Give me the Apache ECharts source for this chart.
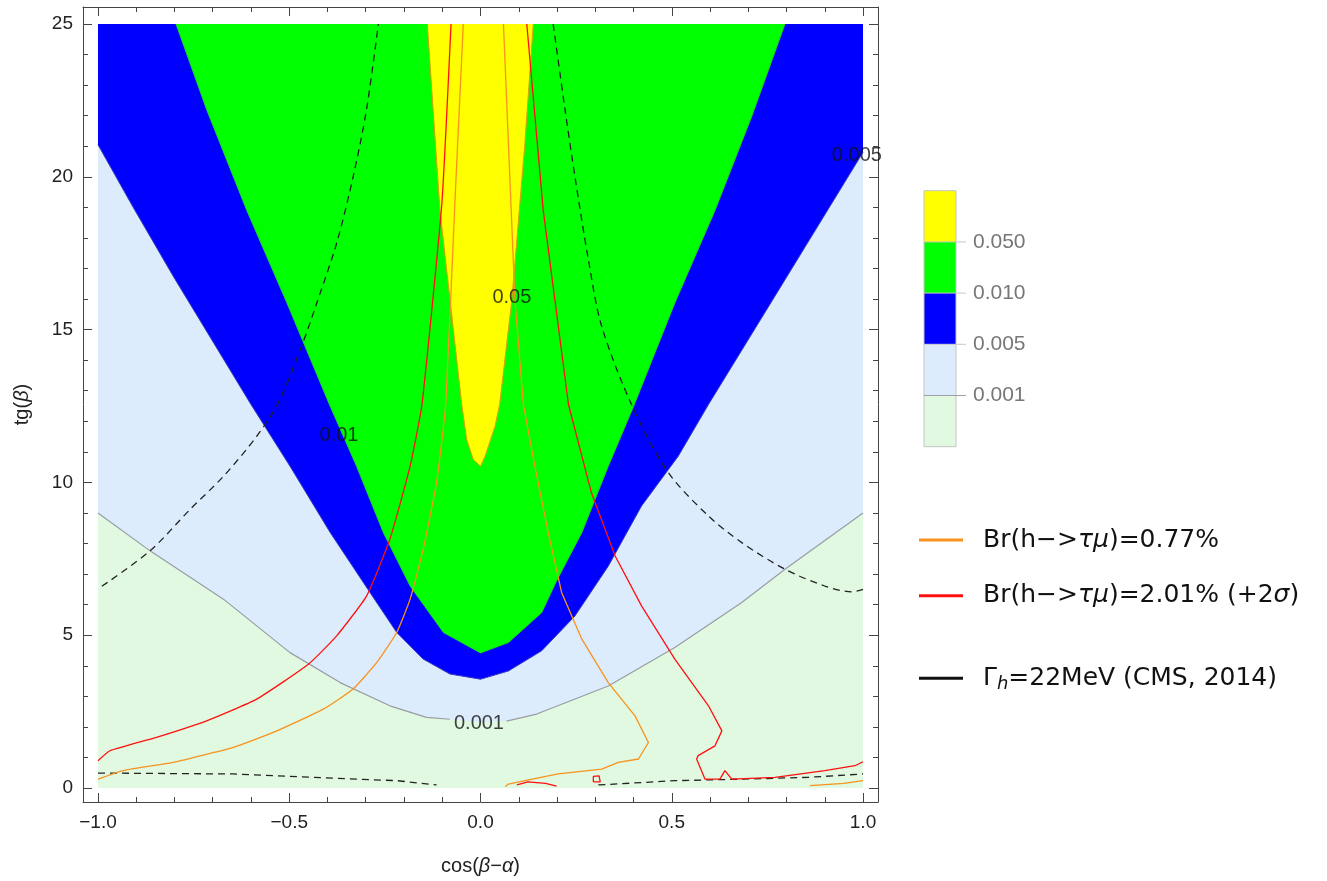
<!DOCTYPE html>
<html>
<head>
<meta charset="utf-8">
<script src="https://cdn.jsdelivr.net/npm/echarts@6/dist/echarts.min.js"></script>
<style>
  html, body { margin: 0; padding: 0; background: #fff; }
  #main { width: 1327px; height: 881px; }
</style>
</head>
<body>
<div id="main"></div>
<script>
// tg(beta) vs cos(beta-alpha) contour plot

var FONT = '"Liberation Sans", Arial, sans-serif';
var WIDE = '"DejaVu Sans", sans-serif';

// filled contour edges (region above each curve gets the colour)
var edge001X = [-1, -0.864, -0.672, -0.498, -0.367, -0.237, -0.141, -0.08, 0, 0.068, 0.147, 0.334, 0.508, 0.683, 0.796, 1];
var edge001Y = [9.0, 7.76, 6.18, 4.43, 3.45, 2.69, 2.31, 2.25, 2.15, 2.19, 2.42, 3.34, 4.6, 6.07, 7.16, 9.0];
var edge005X = [-1, -0.908, -0.803, -0.6, -0.498, -0.393, -0.289, -0.219, -0.15, -0.08, 0, 0.073, 0.16, 0.247, 0.334, 0.421, 0.517, 0.596, 0.77, 1];
var edge005Y = [21.05, 19.0, 16.74, 12.55, 10.53, 8.36, 6.4, 5.09, 4.22, 3.73, 3.56, 3.83, 4.49, 5.63, 7.26, 9.23, 10.86, 12.55, 16.1, 20.8];
var edge01X = [-0.796, -0.716, -0.611, -0.507, -0.395, -0.324, -0.254, -0.184, -0.097, 0, 0.073, 0.16, 0.199, 0.265, 0.334, 0.4, 0.508, 0.613, 0.709, 0.796];
var edge01Y = [25, 22.2, 18.9, 15.9, 12.55, 10.53, 8.36, 6.61, 5.09, 4.42, 4.76, 5.74, 6.78, 8.36, 10.53, 12.48, 15.87, 18.9, 21.97, 25];
var edge05X = [-0.139, -0.106, -0.067, -0.049, -0.036, -0.019, 0, 0.012, 0.038, 0.05, 0.082, 0.116, 0.138];
var edge05Y = [25, 18.9, 14.57, 12.55, 11.4, 10.75, 10.53, 10.86, 11.84, 12.55, 15.98, 21.1, 25];

// Br(h->tau mu) = 0.77%
var orangeLeftX = [-0.045, -0.067, -0.091, -0.115, -0.15, -0.184, -0.219, -0.271, -0.333, -0.411, -0.542, -0.646, -0.803, -0.934, -1];
var orangeLeftY = [25, 19.14, 12.55, 9.99, 7.81, 6.18, 5.09, 4.11, 3.24, 2.58, 1.82, 1.33, 0.84, 0.57, 0.29];
var orangeRightX = [0.06, 0.09, 0.112, 0.142, 0.177, 0.212, 0.265, 0.334, 0.404, 0.439, 0.413, 0.36, 0.317, 0.203, 0.116, 0.073, 0.065];
var orangeRightY = [25, 15.98, 12.55, 10.53, 8.36, 6.4, 4.87, 3.45, 2.36, 1.49, 0.95, 0.84, 0.62, 0.46, 0.24, 0.13, 0.05];
var orangeCornerX = [0.861, 0.95, 1];
var orangeCornerY = [0.08, 0.15, 0.24];

// Br(h->tau mu) = 2.01%
var redLeftX = [-0.077, -0.101, -0.153, -0.184, -0.237, -0.298, -0.376, -0.45, -0.585, -0.716, -0.847, -0.969, -1];
var redLeftY = [25, 19.14, 12.55, 10.53, 8.14, 6.28, 4.98, 4.05, 2.91, 2.2, 1.66, 1.22, 0.89];
var redRightX = [0.121, 0.164, 0.23, 0.29, 0.352, 0.421, 0.508, 0.596, 0.631, 0.613, 0.569, 0.565, 0.587, 0.626, 0.639, 0.657, 0.77, 0.9, 0.979, 1];
var redRightY = [25, 18.9, 12.55, 9.66, 7.59, 5.96, 4.22, 2.69, 1.87, 1.38, 1.06, 0.95, 0.29, 0.29, 0.57, 0.29, 0.35, 0.57, 0.73, 0.86];
var redBitX = [0.095, 0.124, 0.17, 0.199];
var redBitY = [0.1, 0.2, 0.15, 0.06];
var redLoopX = [0.295, 0.295, 0.31, 0.313, 0.295];
var redLoopY = [0.2, 0.38, 0.4, 0.2, 0.2];

// Gamma_h = 22 MeV
var widthLeftX = [-0.99, -0.864, -0.759, -0.672, -0.585, -0.528, -0.465, -0.428, -0.376, -0.333, -0.298, -0.267];
var widthLeftY = [6.6, 7.76, 9.12, 10.2, 11.51, 12.62, 14.55, 15.87, 17.83, 20.0, 22.2, 25];
var widthRightX = [0.19, 0.221, 0.247, 0.282, 0.317, 0.4, 0.491, 0.596, 0.683, 0.796, 0.9, 0.97, 1];
var widthRightY = [25, 22.2, 20.0, 17.29, 15.1, 12.4, 10.32, 8.9, 8.03, 7.16, 6.61, 6.42, 6.5];
var widthLowAX = [-1, -0.647, -0.385, -0.218, -0.115];
var widthLowAY = [0.49, 0.46, 0.32, 0.24, 0.1];
var widthLowBX = [0.308, 0.508, 0.683, 0.857, 1];
var widthLowBY = [0.1, 0.24, 0.29, 0.35, 0.46];

// contour labels
var contourLabels = [
  [-0.37, 11.54, '0.01'],
  [0.082, 16.06, '0.05'],
  [-0.004, 2.12, '0.001'],
  [0.984, 20.69, '0.005']
];

// colour bar
var barColors = ['#ffff00', '#00ff00', '#0000ff', '#dcecfc', '#e0f9e0'];
var barTicks = ['0.050', '0.010', '0.005', '0.001'];

// axes: data range plus the frame padding
var xRange = [-1.0392, 1.0392];
var yRange = [-0.4575, 25.556];
var yTop = 25;
var xMajor = [-1, -0.5, 0, 0.5, 1];
var xMinor = [-0.9, -0.8, -0.7, -0.6, -0.4, -0.3, -0.2, -0.1, 0.1, 0.2, 0.3, 0.4, 0.6, 0.7, 0.8, 0.9];
var yMajor = [0, 5, 10, 15, 20, 25];
var yMinor = [1, 2, 3, 4, 6, 7, 8, 9, 11, 12, 13, 14, 16, 17, 18, 19, 21, 22, 23, 24];

function zip(xs, ys) {
  var out = [];
  for (var i = 0; i < xs.length; i++) out.push([xs[i], ys[i]]);
  return out;
}

// polygon from the edge curve up to tg(beta) = 25
function fill(pts, color, edge) {
  return {
    type: 'custom', silent: true, data: [0],
    renderItem: function (params, api) {
      var line = pts.map(function (p) { return api.coord(p); });
      var poly = line.concat([
        api.coord([pts[pts.length - 1][0], yTop]),
        api.coord([pts[0][0], yTop])
      ]);
      var kids = [{ type: 'polygon', shape: { points: poly }, style: { fill: color } }];
      if (edge) kids.push({ type: 'polyline', shape: { points: line }, style: { stroke: edge, lineWidth: 1, fill: null } });
      return { type: 'group', children: kids };
    }
  };
}

function curve(pts, color, width, dash, smooth) {
  return {
    type: 'line', data: pts, symbol: 'none', silent: true,
    smooth: smooth || 0, clip: true,
    lineStyle: { color: color, width: width, type: dash || 'solid' }
  };
}

function axis(isX, pos, ticks, len, line, labels) {
  var a = {
    type: 'value', position: pos,
    min: isX ? xRange[0] : yRange[0],
    max: isX ? xRange[1] : yRange[1],
    axisLine: { show: line, onZero: false, lineStyle: { color: '#444', width: 1 } },
    axisTick: { show: true, inside: true, length: len, customValues: ticks, lineStyle: { color: '#444', width: 1 } },
    splitLine: { show: false },
    axisLabel: { show: false }
  };
  if (labels) {
    a.axisLabel = {
      show: true, customValues: ticks, margin: isX ? 11 : 10,
      color: '#222', fontSize: 19, fontFamily: FONT,
      formatter: function (v) {
        if (!isX) return String(Math.round(v));
        var s = Math.abs(v).toFixed(1);
        return v < -1e-9 ? '\u2212' + s : s;
      }
    };
  }
  return a;
}

var nameStyle = {
  color: '#222', fontSize: 20, fontFamily: FONT,
  rich: { i: { fontStyle: 'italic', fontSize: 20, fontFamily: FONT, color: '#222' } }
};

var xMain = axis(true, 'bottom', xMajor, 9, true, true);
xMain.name = 'cos({i|\u03b2}\u2212{i|\u03b1})';
xMain.nameLocation = 'middle';
xMain.nameGap = 54;
xMain.nameTextStyle = nameStyle;

var yMain = axis(false, 'left', yMajor, 9, true, true);
yMain.name = 'tg({i|\u03b2})';
yMain.nameLocation = 'middle';
yMain.nameGap = 51;
yMain.nameTextStyle = nameStyle;

var e001 = zip(edge001X, edge001Y);

var series = [
  fill([[-1, 0], [1, 0]], barColors[4]),
  fill(e001, barColors[3]),
  fill(zip(edge005X, edge005Y), barColors[2], '#3b3bc0'),
  fill(zip(edge01X, edge01Y), barColors[1], '#22d022'),
  fill(zip(edge05X, edge05Y), barColors[0], '#d9a400'),
  curve(e001.filter(function (p) { return p[0] <= -0.08; }), '#9a9ca4', 1.2),
  curve(e001.filter(function (p) { return p[0] >= 0.068; }), '#9a9ca4', 1.2),
  curve(zip(widthLeftX, widthLeftY), '#222', 1.3, [7, 5], 0.3),
  curve(zip(widthRightX, widthRightY), '#222', 1.3, [7, 5], 0.3),
  curve(zip(widthLowAX, widthLowAY), '#222', 1.3, [7, 5]),
  curve(zip(widthLowBX, widthLowBY), '#222', 1.3, [7, 5]),
  curve(zip(orangeLeftX, orangeLeftY), '#f7931e', 1.3, null, 0.15),
  curve(zip(orangeRightX, orangeRightY), '#f7931e', 1.3),
  curve(zip(orangeCornerX, orangeCornerY), '#f7931e', 1.3),
  curve(zip(redLeftX, redLeftY), '#ff1010', 1.3, null, 0.15),
  curve(zip(redRightX, redRightY), '#ff1010', 1.3),
  curve(zip(redBitX, redBitY), '#ff1010', 1.3),
  curve(zip(redLoopX, redLoopY), '#ff1010', 1.3),
  {
    type: 'scatter', data: contourLabels, symbolSize: 2, silent: true,
    itemStyle: { color: 'rgba(0,0,0,0)' },
    label: {
      show: true, position: 'inside', color: '#111', fontSize: 20, fontFamily: FONT,
      formatter: function (p) { return p.data[2]; }
    },
    z: 10
  }
];

// colour bar graphics
var barX = 924, barW = 32, barTop = 190.7, segH = 51.2;
var graphics = [];
barColors.forEach(function (c, i) {
  graphics.push({ type: 'rect', shape: { x: barX, y: barTop + i * segH, width: barW, height: segH }, style: { fill: c } });
});
graphics.push({ type: 'rect', shape: { x: barX, y: barTop, width: barW, height: segH * 5 }, style: { fill: 'none', stroke: '#c4c4c4', lineWidth: 1 } });
barTicks.forEach(function (t, i) {
  var y = barTop + (i + 1) * segH;
  graphics.push({ type: 'line', shape: { x1: barX, y1: y, x2: barX + barW + 10, y2: y }, style: { stroke: i === 3 ? '#a0a0a8' : '#c8c8c8', lineWidth: 1 } });
  graphics.push({ type: 'text', x: barX + 49, y: y, style: { text: t, fill: '#777', fontSize: 21, fontFamily: FONT, verticalAlign: 'middle' } });
});

// legend graphics
var legendItems = [
  { color: '#f7931e', y: 540, text: 'Br(h\u2212>{i|\u03c4\u03bc})=0.77%' },
  { color: '#ff1010', y: 595.7, text: 'Br(h\u2212>{i|\u03c4\u03bc})=2.01% (+2{i|\u03c3})' },
  { color: '#111', y: 678.3, text: '\u0393{s|h}=22MeV (CMS, 2014)' }
];
legendItems.forEach(function (it) {
  graphics.push({ type: 'line', shape: { x1: 919, y1: it.y, x2: 963, y2: it.y }, style: { stroke: it.color, lineWidth: 3 } });
  graphics.push({
    type: 'text', x: 983, y: it.y,
    style: {
      text: it.text, fill: '#111', fontSize: 25, fontFamily: WIDE, verticalAlign: 'middle',
      rich: {
        i: { fontStyle: 'italic', fontSize: 25, fontFamily: WIDE, fill: '#111' },
        s: { fontStyle: 'italic', fontSize: 18, fontFamily: WIDE, fill: '#111', padding: [12, 0, 0, 0] }
      }
    }
  });
});

var chart = echarts.init(document.getElementById('main'), null, { renderer: 'canvas' });

var option = {
  animation: false,
  backgroundColor: '#fff',
  grid: { left: 83, top: 7, width: 795, height: 796, containLabel: false },
  xAxis: [
    xMain,
    axis(true, 'bottom', xMinor, 5, false, false),
    axis(true, 'top', xMajor, 9, true, false),
    axis(true, 'top', xMinor, 5, false, false)
  ],
  yAxis: [
    yMain,
    axis(false, 'left', yMinor, 5, false, false),
    axis(false, 'right', yMajor, 9, true, false),
    axis(false, 'right', yMinor, 5, false, false)
  ],
  series: series,
  graphic: graphics
};

chart.setOption(option);
</script>
</body>
</html>
